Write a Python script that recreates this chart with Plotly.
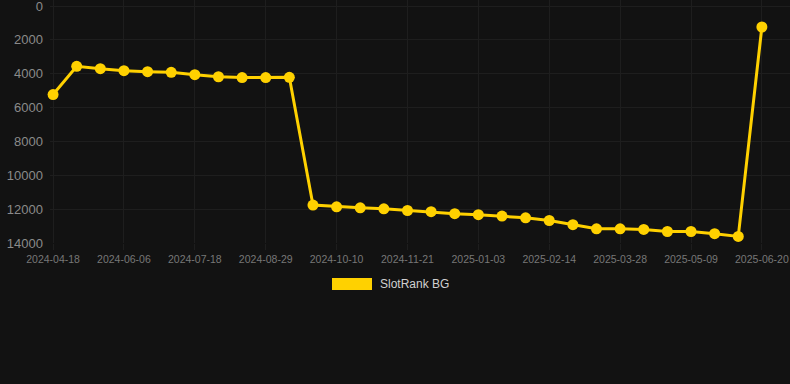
import plotly.graph_objects as go

dates = [
    "2024-04-18", "2024-05-09", "2024-05-23", "2024-06-06", "2024-06-20", "2024-07-04",
    "2024-07-18", "2024-08-01", "2024-08-15", "2024-08-29", "2024-09-12", "2024-09-26",
    "2024-10-10", "2024-10-24", "2024-11-07", "2024-11-21", "2024-12-05", "2024-12-19",
    "2025-01-03", "2025-01-17", "2025-01-31", "2025-02-14", "2025-02-28", "2025-03-14",
    "2025-03-28", "2025-04-11", "2025-04-25", "2025-05-09", "2025-05-23", "2025-06-06",
    "2025-06-20",
]
ranks = [
    5230, 3560, 3700, 3820, 3880, 3920, 4060, 4180, 4230, 4230, 4210,
    11760, 11860, 11920, 11980,
    12080, 12150, 12270, 12330, 12410, 12510, 12670, 12920, 13160, 13160,
    13200, 13320, 13320, 13450, 13610,
    1240,
]
tick_labels = dates[::3]
y_ticks = [0, 2000, 4000, 6000, 8000, 10000, 12000, 14000]
series_name = "SlotRank BG"
gold = "#FFD100"

fig = go.Figure()
fig.add_trace(go.Scatter(
    x=dates, y=ranks, mode="lines+markers", name=series_name,
    line=dict(color=gold, width=3),
    marker=dict(color=gold, size=11),
    showlegend=False, cliponaxis=False,
))

plot_h = 243
fig.update_layout(
    width=790, height=384,
    paper_bgcolor="#121212", plot_bgcolor="#121212",
    margin=dict(l=50, r=0, t=0, b=384 - plot_h),
    font=dict(family="Liberation Sans, Arial, sans-serif", color="#8a8a8a"),
    xaxis=dict(
        type="category", categoryorder="array", categoryarray=dates,
        range=[-0.13, 31.19],
        tickmode="array", tickvals=tick_labels, ticktext=tick_labels,
        tickfont=dict(size=10.5, color="#777777"),
        showgrid=True, gridcolor="#1e1e1e", gridwidth=1,
        ticks="outside", ticklen=6, tickcolor="#1e1e1e",
        zeroline=False, showline=False, ticklabeloverflow="allow",
    ),
    yaxis=dict(
        range=[14000, 14000 - 14000 * plot_h / 237],
        tickmode="array", tickvals=y_ticks, tickformat="d",
        tickfont=dict(size=13, color="#8a8a8a"),
        showgrid=True, gridcolor="#1e1e1e", gridwidth=1,
        zeroline=False, showline=False, ticks="", ticklabelstandoff=6,
        ticklabeloverflow="allow",
    ),
    shapes=[dict(
        type="rect", xref="paper", yref="paper",
        x0=(332 - 50) / 740, x1=(372 - 50) / 740,
        y0=(plot_h - 290) / plot_h, y1=(plot_h - 278) / plot_h,
        fillcolor=gold, line=dict(width=0),
    )],
    annotations=[dict(
        text=series_name, xref="paper", yref="paper",
        x=(378 - 50) / 740, y=(plot_h - 284) / plot_h,
        xanchor="left", yanchor="middle", showarrow=False,
        font=dict(size=12, color="#d0d0d0"),
    )],
)

fig.write_html(
    "out.html",
    config={"displayModeBar": False},
    post_script="document.body.style.margin='0';document.body.style.background='#121212';",
)
